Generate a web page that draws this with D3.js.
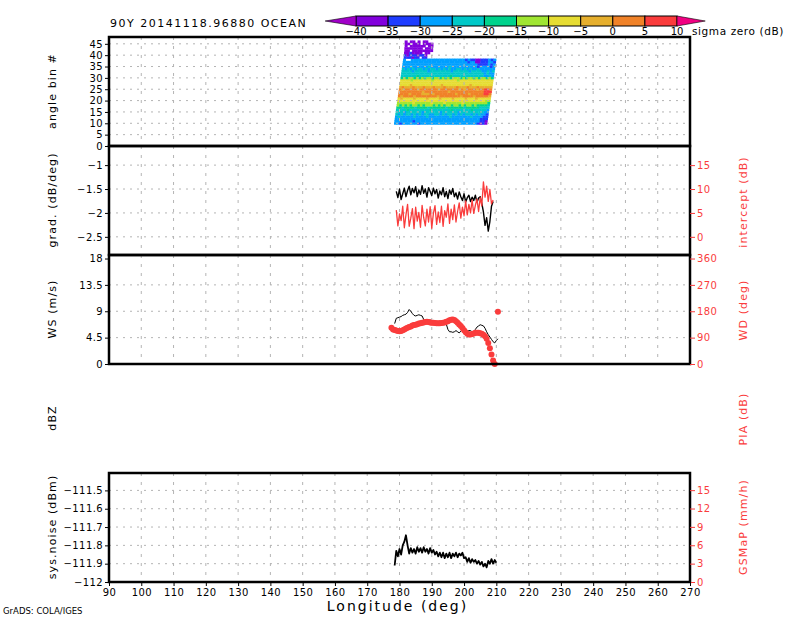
<!DOCTYPE html>
<html lang="en">
<head>
<meta charset="utf-8">
<title>90Y 20141118.96880 OCEAN</title>
<script src="https://d3js.org/d3.v7.min.js"></script>
<style>
  body { margin: 0; background: #fff; }
  svg text { font-family: "DejaVu Sans", sans-serif; }
</style>
</head>
<body>
<div id="chart-container"></div>
<script>
// ---- data ----
const lonTicks = [90, 100, 110, 120, 130, 140, 150, 160, 170, 180, 190, 200, 210, 220, 230, 240, 250, 260, 270];
const angleTicks = [0, 5, 10, 15, 20, 25, 30, 35, 40, 45];
const gradTicks = [-2.5, -2, -1.5, -1];
const interceptTicks = [0, 5, 10, 15];
const wsTicks = [0, 4.5, 9, 13.5, 18];
const wdTicks = [0, 90, 180, 270, 360];
const noiseTicks = [-112, -111.9, -111.8, -111.7, -111.6, -111.5];
const gsmapTicks = [0, 3, 6, 9, 12, 15];

// colour bar (sigma zero, dB)
const sigmaLevels = [-40, -35, -30, -25, -20, -15, -10, -5, 0, 5, 10];
const sigmaColors = ['#a000c8', '#8200dc', '#1e3cff', '#00a0ff', '#00c8c8', '#00d28c',
                     '#a0e632', '#e6dc32', '#e6af2d', '#f08228', '#fa3c3c', '#f00082'];
// one sigma value per colour class, the row strings below hold class indices (hex), '.' = no data
const classSigma = [-42.5, -37.5, -32.5, -27.5, -22.5, -17.5, -12.5, -7.5, -2.5, 2.5, 7.5, 12.5];

// angle bin rows of the swath (bottom to top), their west edge and cells of 0.8 deg
const swathBins = [10, 11, 12, 13, 14, 15, 16, 17, 18, 19, 20, 21, 22, 23, 24, 25, 26, 27, 28, 29,
                   30, 31, 32, 33, 34, 35, 36, 37, 38, 39, 40, 41, 42, 43, 44, 45, 46];
const swathStartLon = [178.3, 178.4, 178.5, 178.6, 178.7, 178.8, 178.9, 179.0, 179.1, 179.2,
                       179.3, 179.4, 179.5, 179.6, 179.7, 179.8, 179.9, 180.0, 180.1, 180.2,
                       180.3, 180.4, 180.5, 180.6, 180.7, 180.8, 180.9, 181.0, 181.1,
                       181.3, 181.3, 181.4, 181.5, 181.5, 181.6, 181.6, 181.6];
const swathRows = [
  '332333333233333333333333333333332121', // 10
  '333333323333333333333333333333333221',
  '333333333333333333333333333333333222',
  '343333343333433333333433333334333322',
  '434344343434433443434434343443434332',
  '444344444434444443444444344444444433', // 15
  '444454444444454444444544444445444443',
  '554555545555455555545555554555554444',
  '656565665656665656566566565665655554',
  '666666766666676666766666676666666665',
  '777777777777777777777777777777777766', // 20
  '787777877778777787777877778777877777',
  '989999899999999899999999899998999998',
  '999989999888989999999989999899999aa9',
  '999999999899999999989999999999999aaa',
  '989999989999999899999998989999899aa9', // 25
  '898889888988898889888898889888988888',
  '777787777777777787777777777877777777',
  '777777777777777777777777777777777777',
  '777767777777677777777767777777777777',
  '565665656566566565656665656656566565', // 30
  '444444544444444444454444444444443343',
  '444444444444444444444444444444443433',
  '444434444434444444434444443444433434',
  '434343443434434343433443434334333333',
  '333433333343333333433333333332333323', // 35
  '333333333333333333333333333332222323',
  '333333333333333333333333323311222332',
  '3..333333333333333333333232211222323',
  '222122.22',
  '212221221',                            // 40
  '1121111.11.',
  '11.11111111',
  '1111111.111',
  '1.111111.11',
  '11.111.1111',                          // 45
  '1.11.1.11..'
];
const cellLon = 0.8;

// along-track longitudes shared by the line panels
const trackLon = [177.5, 178.0, 178.5, 179.0, 179.5, 180.0, 180.5, 181.0, 181.5, 182.0,
                  182.5, 183.0, 183.5, 184.0, 184.5, 185.0, 185.5, 186.0, 186.5, 187.0,
                  187.5, 188.0, 188.5, 189.0, 189.5, 190.0, 190.5, 191.0, 191.5, 192.0,
                  192.5, 193.0, 193.5, 194.0, 194.5, 195.0, 195.5, 196.0, 196.5, 197.0,
                  197.5, 198.0, 198.5, 199.0, 199.5, 200.0, 200.5, 201.0, 201.5, 202.0,
                  202.5, 203.0, 203.5, 204.0, 204.5, 205.0, 205.5, 206.0, 206.5, 207.0,
                  207.5, 208.0, 208.5, 209.0, 209.5, 210.0, 210.5];

const gradVal = [null, null, null, -1.55, -1.68, -1.50, -1.72, -1.60, -1.48, -1.66,
                 -1.53, -1.44, -1.62, -1.49, -1.58, -1.45, -1.66, -1.52, -1.61, -1.43,
                 -1.59, -1.50, -1.67, -1.47, -1.55, -1.64, -1.48, -1.60, -1.51, -1.69,
                 -1.54, -1.62, -1.47, -1.66, -1.55, -1.70, -1.52, -1.61, -1.49, -1.66,
                 -1.58, -1.71, -1.56, -1.66, -1.74, -1.60, -1.77, -1.68, -1.63, -1.76,
                 -1.67, -1.74, -1.63, -1.78, -1.69, -1.66, -1.80, -1.98, -2.26, -2.10,
                 -2.38, -2.18, -1.86, -1.76, null, null, null];

const interceptVal = [null, null, null, 5.6, 2.3, 4.8, 3.4, 6.4, 1.9, 4.6,
                      6.8, 2.2, 3.9, 5.9, 1.7, 6.2, 3.3, 5.1, 2.0, 6.6,
                      4.0, 2.3, 5.8, 3.1, 6.3, 1.8, 4.9, 6.5, 2.6, 5.2,
                      3.0, 6.4, 2.2, 5.5, 4.1, 6.9, 2.8, 5.8, 3.6, 6.7,
                      3.1, 5.3, 7.1, 3.9, 6.2, 4.4, 7.5, 4.6, 6.8, 5.0,
                      7.7, 4.9, 6.6, 7.9, 5.3, 8.2, 6.5, 11.5, 8.3, 10.6,
                      7.4, 9.9, 6.9, 7.7, null, null, null];

const wsVal = [null, null, 6.9, 7.8, 7.9, 8.0, 8.1, 8.3, 8.4, 8.5,
               8.8, 9.3, 9.0, 8.6, 8.3, 8.2, 8.3, 8.4, 8.3, 8.2,
               7.6, 7.2, 7.3, 7.4, 7.5, 7.4, 7.3, 7.2, 7.1, 7.2,
               7.3, 7.1, 7.4, 7.2, 6.8, 5.9, 5.5, 5.5, 5.4, 5.5,
               5.7, 5.5, 5.3, 5.6, 5.9, 5.8, 5.5, 5.6, 5.7, 5.7,
               5.5, 5.5, 5.9, 6.3, 6.5, 6.7, 6.6, 6.5, 6.1, 5.5,
               5.0, 4.6, 4.2, 3.8, 3.6, 4.0, 4.3];

const wdVal = [124, 118, 116, 114, 113, 112, 113, 115, 118, 121,
               124, 126, 128, 131, 133, 134, 136, 138, 139, 141,
               142, 143, 144, 143, 142, 141, 141, 140, 139, 139,
               139, 140, 141, 142, 144, 146, 149, 151, 152, 150,
               146, 141, 135, 130, 123, 115, 108, 103, 101, 101,
               102, 104, 107, 107, 107, 105, 103, 100, 95, 86,
               72, 54, 32, 12, 0, null, 178];

const noiseVal = [null, null, -111.91, -111.83, -111.86, -111.82, -111.85, -111.80, -111.78, -111.745,
                  -111.80, -111.845, -111.815, -111.84, -111.82, -111.845, -111.81, -111.835, -111.815, -111.84,
                  -111.81, -111.835, -111.82, -111.845, -111.815, -111.84, -111.825, -111.85, -111.835, -111.86,
                  -111.84, -111.865, -111.84, -111.87, -111.845, -111.865, -111.84, -111.87, -111.845, -111.86,
                  -111.84, -111.865, -111.845, -111.855, -111.84, -111.87, -111.865, -111.89, -111.87, -111.895,
                  -111.875, -111.89, -111.88, -111.90, -111.885, -111.905, -111.89, -111.915, -111.90, -111.92,
                  -111.885, -111.90, -111.875, -111.90, -111.88, -111.895, null];

// ---- layout ----
const width = 800;
const height = 618;
const plotLeft = 109;
const plotRight = 690;
const red = '#fa3c3c';
const gridColor = '#b4b4b4';

const svg = d3.select('#chart-container')
    .append('svg')
    .attr('width', width)
    .attr('height', height);

const xScale = d3.scaleLinear().domain([90, 270]).range([plotLeft, plotRight]);

const yAngle = d3.scaleLinear().domain([0, 48]).range([146, 37]);
const yGrad = d3.scaleLinear().domain([-2.88, -0.6]).range([255, 146]);
const yIntercept = d3.scaleLinear().domain([-3.8, 19]).range([255, 146]);
const yWS = d3.scaleLinear().domain([0, 18.6]).range([364, 255]);
const yWD = d3.scaleLinear().domain([0, 372]).range([364, 255]);
const yNoise = d3.scaleLinear().domain([-112, -111.405]).range([582, 473]);
const yGsmap = d3.scaleLinear().domain([0, 17.8]).range([582, 473]);

const sigmaColor = d3.scaleThreshold().domain(sigmaLevels).range(sigmaColors);

// framed panels: [y scale, ticks used for the horizontal grid]
const panels = [
    [yAngle, angleTicks],
    [yGrad, gradTicks],
    [yWS, wsTicks],
    [yNoise, noiseTicks]
];

// ---- sigma zero swath (panel 1) ----
const cells = [];
swathBins.forEach((bin, r) => {
    swathRows[r].split('').forEach((c, i) => {
        if (c === '.') return;
        cells.push({ lon: swathStartLon[r] + i * cellLon, bin: bin, sigma: classSigma[parseInt(c, 16)] });
    });
});

svg.append('g').attr('id', 'swath')
    .selectAll('rect')
    .data(cells)
    .enter()
    .append('rect')
    .attr('x', d => xScale(d.lon))
    .attr('y', d => yAngle(d.bin + 0.5))
    .attr('width', d => xScale(d.lon + cellLon) - xScale(d.lon) + 0.4)
    .attr('height', d => yAngle(d.bin - 0.5) - yAngle(d.bin + 0.5) + 0.3)
    .attr('fill', d => sigmaColor(d.sigma));

// ---- grid (drawn above the shading, like GrADS does) ----
const gridGroup = svg.append('g').attr('id', 'grid');
panels.forEach(([yScale, ticks]) => {
    const [y0, y1] = yScale.range();
    gridGroup.selectAll(null)
        .data(lonTicks.slice(1, -1))
        .enter()
        .append('line')
        .attr('x1', d => xScale(d))
        .attr('x2', d => xScale(d))
        .attr('y1', y1)
        .attr('y2', y0)
        .attr('stroke', gridColor)
        .attr('stroke-dasharray', '3,6');
    gridGroup.selectAll(null)
        .data(ticks.filter(t => yScale(t) > y1 + 5 && yScale(t) < y0 - 2))
        .enter()
        .append('line')
        .attr('x1', plotLeft)
        .attr('x2', plotRight)
        .attr('y1', d => yScale(d))
        .attr('y2', d => yScale(d))
        .attr('stroke', gridColor)
        .attr('stroke-dasharray', '2,5');
});

// ---- line panels ----
function track(values) {
    return trackLon.map((lon, i) => [lon, values[i]]);
}
function drawLine(values, yScale, colour, lineWidth) {
    svg.append('path')
        .datum(track(values))
        .attr('fill', 'none')
        .attr('stroke', colour)
        .attr('stroke-width', lineWidth)
        .attr('stroke-linejoin', 'round')
        .attr('d', d3.line()
            .defined(d => d[1] != null)
            .x(d => xScale(d[0]))
            .y(d => yScale(d[1])));
}

drawLine(gradVal, yGrad, '#000', 1.4);
drawLine(interceptVal, yIntercept, red, 1.3);

drawLine(wsVal, yWS, '#000', 1);
svg.append('g').attr('id', 'wd-marks')
    .selectAll('circle')
    .data(track(wdVal).filter(d => d[1] != null))
    .enter()
    .append('circle')
    .attr('cx', d => xScale(d[0]))
    .attr('cy', d => yWD(d[1]))
    .attr('r', 3)
    .attr('fill', red);

drawLine(noiseVal, yNoise, '#000', 1.8);

// ---- frames ----
panels.forEach(([yScale]) => {
    const [y0, y1] = yScale.range();
    svg.append('rect')
        .attr('x', plotLeft)
        .attr('y', y1)
        .attr('width', plotRight - plotLeft)
        .attr('height', y0 - y1)
        .attr('fill', 'none')
        .attr('stroke', '#000')
        .attr('stroke-width', 2.5);
});

// ---- axes ----
const fmt = d3.format('~g');
function styleAxis(g, colour) {
    g.select('.domain').remove();
    g.selectAll('line').attr('stroke', colour);
    g.selectAll('text')
        .attr('fill', colour)
        .style('font-size', '10px')
        .style('letter-spacing', '0.4px')
        .style('font-family', '"DejaVu Sans", sans-serif');
}
function leftAxis(yScale, ticks) {
    svg.append('g')
        .attr('transform', `translate(${plotLeft},0)`)
        .call(d3.axisLeft(yScale).tickValues(ticks).tickSize(4).tickPadding(2).tickFormat(fmt))
        .call(g => styleAxis(g, '#000'));
}
function rightAxis(yScale, ticks) {
    svg.append('g')
        .attr('transform', `translate(${plotRight},0)`)
        .call(d3.axisRight(yScale).tickValues(ticks).tickSize(5).tickPadding(2).tickFormat(fmt))
        .call(g => styleAxis(g, red));
}

leftAxis(yAngle, angleTicks);
leftAxis(yGrad, gradTicks);
rightAxis(yIntercept, interceptTicks);
leftAxis(yWS, wsTicks);
rightAxis(yWD, wdTicks);
leftAxis(yNoise, noiseTicks);
rightAxis(yGsmap, gsmapTicks);

svg.append('g')
    .attr('transform', `translate(0,${yNoise.range()[0]})`)
    .call(d3.axisBottom(xScale).tickValues(lonTicks).tickSize(4).tickPadding(3).tickFormat(d3.format('d')))
    .call(g => styleAxis(g, '#000'));

// ---- axis titles ----
function sideLabel(text, x, y, colour) {
    svg.append('text')
        .attr('transform', `translate(${x},${y}) rotate(-90)`)
        .attr('text-anchor', 'middle')
        .attr('dominant-baseline', 'central')
        .attr('fill', colour)
        .style('font-size', '11px')
        .style('letter-spacing', '1.1px')
        .text(text);
}
sideLabel('angle bin #', 52, 91, '#000');
sideLabel('grad. (dB/deg)', 52, 200, '#000');
sideLabel('WS (m/s)', 52, 309, '#000');
sideLabel('dBZ', 52, 418, '#000');
sideLabel('sys.noise (dBm)', 52, 527, '#000');
sideLabel('intercept (dB)', 743, 202, red);
sideLabel('WD (deg)', 743, 310, red);
sideLabel('PIA (dB)', 743, 419, red);
sideLabel('GSMaP (mm/h)', 743, 527, red);

svg.append('text')
    .attr('x', (plotLeft + plotRight) / 2 - 2)
    .attr('y', 611)
    .attr('text-anchor', 'middle')
    .style('font-size', '14px')
    .style('letter-spacing', '2px')
    .text('Longitude (deg)');

svg.append('text')
    .attr('x', 3)
    .attr('y', 614)
    .style('font-size', '8.5px')
    .text('GrADS: COLA/IGES');

svg.append('text')
    .attr('x', 110)
    .attr('y', 27)
    .style('font-size', '11px')
    .style('letter-spacing', '1.5px')
    .text('90Y 20141118.96880 OCEAN');

// ---- colour bar ----
const barScale = d3.scaleLinear().domain([-40, 10]).range([356, 677]);
const barTop = 16;
const barBottom = 26;
const bar = svg.append('g').attr('id', 'colour-bar');

bar.selectAll('rect')
    .data(d3.pairs(sigmaLevels))
    .enter()
    .append('rect')
    .attr('x', d => barScale(d[0]))
    .attr('y', barTop)
    .attr('width', d => barScale(d[1]) - barScale(d[0]))
    .attr('height', barBottom - barTop)
    .attr('fill', d => sigmaColor((d[0] + d[1]) / 2))
    .attr('stroke', '#000')
    .attr('stroke-width', 1);

const barMid = (barTop + barBottom) / 2;
bar.append('polygon')
    .attr('points', `${barScale(-40)},${barTop} ${barScale(-40)},${barBottom} ${barScale(-44.8)},${barMid}`)
    .attr('fill', sigmaColor(-45))
    .attr('stroke', '#000')
    .attr('stroke-width', 0.6);
bar.append('polygon')
    .attr('points', `${barScale(10)},${barTop} ${barScale(10)},${barBottom} ${barScale(14.4)},${barMid}`)
    .attr('fill', sigmaColor(15))
    .attr('stroke', '#000')
    .attr('stroke-width', 0.6);

bar.selectAll('text')
    .data(sigmaLevels)
    .enter()
    .append('text')
    .attr('x', d => barScale(d))
    .attr('y', 35)
    .attr('text-anchor', 'middle')
    .style('font-size', '10px')
    .text(d => fmt(d));

svg.append('text')
    .attr('x', 692)
    .attr('y', 35)
    .style('font-size', '10.5px')
    .style('letter-spacing', '0.6px')
    .text('sigma zero (dB)');
</script>
</body>
</html>
